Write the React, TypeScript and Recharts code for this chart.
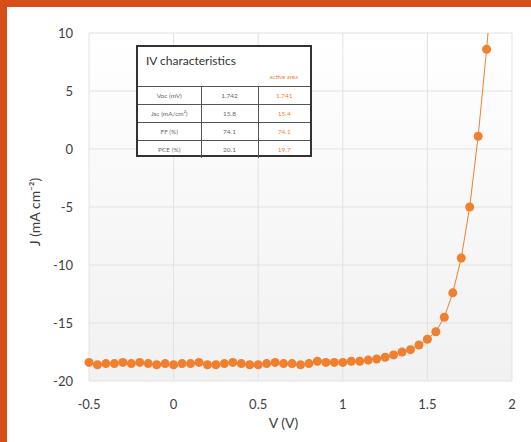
import { LineChart, Line, XAxis, YAxis, CartesianGrid, Label } from "recharts"

const voltage = [
  -0.5, -0.45, -0.4, -0.35, -0.3, -0.25, -0.2, -0.15, -0.1, -0.05,
  0, 0.05, 0.1, 0.15, 0.2, 0.25, 0.3, 0.35, 0.4, 0.45,
  0.5, 0.55, 0.6, 0.65, 0.7, 0.75, 0.8, 0.85, 0.9, 0.95,
  1.0, 1.05, 1.1, 1.15, 1.2, 1.25, 1.3, 1.35, 1.4, 1.45,
  1.5, 1.55, 1.6, 1.65, 1.7, 1.75, 1.8, 1.85, 1.9,
]
const current = [
  -18.4, -18.6, -18.5, -18.5, -18.4, -18.5, -18.4, -18.5, -18.6, -18.5,
  -18.6, -18.5, -18.5, -18.4, -18.6, -18.6, -18.5, -18.4, -18.5, -18.6,
  -18.6, -18.5, -18.4, -18.5, -18.5, -18.6, -18.5, -18.3, -18.4, -18.4,
  -18.4, -18.3, -18.3, -18.2, -18.1, -17.95, -17.75, -17.5, -17.3, -16.9,
  -16.4, -15.75, -14.5, -12.4, -9.4, -5.0, 1.1, 8.6, 17,
]
const xTicks = [-0.5, 0, 0.5, 1, 1.5, 2]
const yTicks = [-20, -15, -10, -5, 0, 5, 10]

const rowNames = ["Voc (mV)", "Jsc (mA/cm²)", "FF (%)", "PCE (%)"]
const beforeValues = ["1.742", "15.8", "74.1", "20.1"]
const afterValues = ["1.741", "15.4", "74.1", "19.7"]

const ORANGE = "#F07F2E"
const FONT = "Lato, 'Open Sans', sans-serif"

const data = voltage.map((v, i) => ({ v, j: current[i] }))

function IvTable() {
  const cell = {
    borderTop: "1px solid #555",
    borderLeft: "1px solid #555",
    height: 17,
    fontSize: 6.5,
    color: "#666",
    textAlign: "center" as const,
    padding: 0,
  }
  return (
    <div
      style={{
        position: "absolute",
        left: 136,
        top: 45,
        width: 176,
        height: 112,
        border: "2px solid #333",
        boxSizing: "border-box",
        background: "#fff",
        fontFamily: FONT,
      }}
    >
      <div style={{ position: "relative", height: 39 }}>
        <div style={{ position: "absolute", left: 8, top: 6, fontSize: 12, color: "#333" }}>
          IV characteristics
        </div>
        <div style={{ position: "absolute", right: 12, top: 26, fontSize: 6, color: ORANGE }}>
          active area
        </div>
      </div>
      <table style={{ borderCollapse: "collapse", width: "100%", tableLayout: "fixed" }}>
        <colgroup>
          <col style={{ width: 63 }} />
          <col style={{ width: 57 }} />
          <col />
        </colgroup>
        <tbody>
          {rowNames.map((name, i) => (
            <tr key={name}>
              <td style={{ ...cell, borderLeft: "none" }}>{name}</td>
              <td style={cell}>{beforeValues[i]}</td>
              <td style={{ ...cell, color: ORANGE }}>{afterValues[i]}</td>
            </tr>
          ))}
        </tbody>
      </table>
    </div>
  )
}

export default function App() {
  return (
    <div
      style={{
        position: "absolute",
        left: 0,
        top: 0,
        width: 531,
        height: 442,
        background: "#D64F19",
        overflow: "hidden",
      }}
    >
      <div
        style={{
          position: "absolute",
          left: 7,
          top: 7,
          width: 524,
          height: 435,
          background: "#fff",
        }}
      />
      <div style={{ position: "absolute", left: 0, top: 0 }}>
        <LineChart
          width={531}
          height={442}
          data={data}
          margin={{ top: 33, right: 19, bottom: 11, left: 29 }}
        >
          <defs>
            <linearGradient id="plotBg" x1="0" y1="0" x2="0" y2="1">
              <stop offset="0%" stopColor="#ffffff" />
              <stop offset="100%" stopColor="#f1f1f1" />
            </linearGradient>
          </defs>
          <CartesianGrid stroke="#e2e2e2" fill="url(#plotBg)" />
          <XAxis
            dataKey="v"
            type="number"
            domain={[-0.5, 2]}
            ticks={xTicks}
            axisLine={false}
            tickLine={false}
            tickMargin={13}
            height={50}
            tick={{ fill: "#404040", fontSize: 13, fontFamily: FONT }}
          >
            <Label
              value="V (V)"
              position="insideBottom"
              offset={3}
              dx={-17}
              style={{ fill: "#404040", fontSize: 14, fontFamily: FONT }}
            />
          </XAxis>
          <YAxis
            type="number"
            domain={[-20, 10]}
            ticks={yTicks}
            allowDataOverflow
            axisLine={false}
            tickLine={false}
            tickMargin={10}
            width={60}
            tick={{ fill: "#404040", fontSize: 13, fontFamily: FONT }}
          >
            <Label
              value="J (mA cm⁻²)"
              angle={-90}
              position="insideLeft"
              offset={6}
              dy={5}
              style={{ fill: "#404040", fontSize: 14, fontFamily: FONT, textAnchor: "middle" }}
            />
          </YAxis>
          <Line
            type="linear"
            dataKey="j"
            stroke={ORANGE}
            strokeWidth={1}
            dot={{ r: 4.5, fill: ORANGE, stroke: "none" }}
            isAnimationActive={false}
          />
        </LineChart>
      </div>
      <IvTable />
    </div>
  )
}
